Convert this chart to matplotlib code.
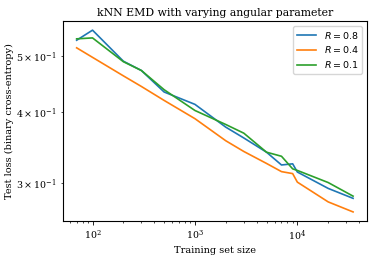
import numpy as np
import matplotlib
matplotlib.use("Agg")
import matplotlib.pyplot as plt

plt.rcParams['font.family'] = 'serif'
plt.rcParams['font.size'] = 8

# training set sizes
n_train = [70, 100, 200, 300, 500, 1000, 2000, 3000, 5000, 7000, 9000, 10000, 20000, 35000]

# test loss for each angular parameter R
loss_r08 = [0.533, 0.555, 0.490, 0.472, 0.433, 0.412, 0.376, 0.360, 0.340, 0.323, 0.3245, 0.314, 0.294, 0.2825]
loss_r04 = [0.517, 0.4976, 0.462, 0.4427, 0.4186, 0.389, 0.356, 0.341, 0.325, 0.3145, 0.312, 0.3015, 0.2785, 0.2675]
loss_r01 = [0.536, 0.538, 0.489, 0.472, 0.437, 0.402, 0.380, 0.367, 0.340, 0.3345, 0.318, 0.316, 0.301, 0.285]

labels = [r'$R=0.8$', r'$R=0.4$', r'$R=0.1$']

fig = plt.figure(figsize=(3.74, 2.57), dpi=100)
ax = fig.add_axes([0.168, 0.140, 0.813, 0.778])

for y, lab in zip([loss_r08, loss_r04, loss_r01], labels):
    ax.plot(n_train, y, label=lab, linewidth=1.2)

ax.set_xscale('log')
ax.set_yscale('log')
ax.set_title('kNN EMD with varying angular parameter', fontsize=7.8, pad=4)
ax.set_xlabel('Training set size', fontsize=7, labelpad=2)
ax.set_ylabel('Test loss (binary cross-entropy)', fontsize=7, labelpad=2)
ax.tick_params(labelsize=6.8, which='both', pad=2.5)
ax.tick_params(which='major', length=2.8, width=0.6)
ax.tick_params(which='minor', length=1.6, width=0.5)
for s in ax.spines.values():
    s.set_linewidth(0.8)
ax.legend(loc='upper right', fontsize=6.8, borderpad=0.4, handlelength=2.0, labelspacing=0.4)

fig.savefig('out.png', dpi=100)
